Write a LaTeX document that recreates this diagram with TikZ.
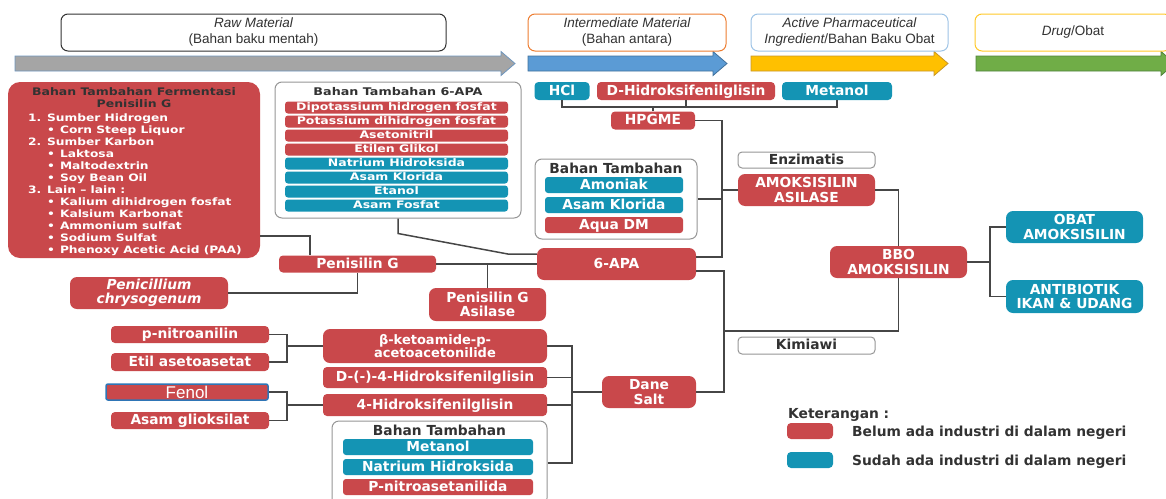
\documentclass[tikz,border=0pt]{standalone}
\usepackage{fontspec}
\newfontfamily\lbl{DejaVu Sans}
\newfontfamily\lblwide{DejaVu Sans}[FakeStretch=1.2]
\newfontfamily\arial{Liberation Sans}
\definecolor{rd}{RGB}{201,72,75}
\definecolor{bl}{RGB}{20,148,180}
\definecolor{dark}{RGB}{50,50,50}
\definecolor{wirecol}{RGB}{70,70,70}
\definecolor{rim}{RGB}{150,150,150}
\definecolor{orng}{RGB}{237,125,49}
\definecolor{lblue}{RGB}{157,195,230}
\definecolor{yel}{RGB}{255,200,40}
\definecolor{fenolrim}{RGB}{46,117,182}
\definecolor{arrgray}{RGB}{165,165,165}
\definecolor{arrgrayrim}{RGB}{110,150,190}
\definecolor{arrblue}{RGB}{91,155,213}
\definecolor{arrbluerim}{RGB}{65,113,156}
\definecolor{arryel}{RGB}{255,192,0}
\definecolor{arryelrim}{RGB}{200,150,40}
\definecolor{arrgreen}{RGB}{112,173,71}
\definecolor{arrgreenrim}{RGB}{80,130,60}
\tikzset{>=latex,
  sz/.style 2 args={minimum width=#1pt,minimum height=#2pt},
  tagbase/.style={rounded corners=4pt,inner sep=0pt,align=center,text=white,
    font=\lbl\bfseries\fontsize{13.8}{14.5}\selectfont},
  redtag/.style={tagbase,fill=rd},
  bluetag/.style={tagbase,fill=bl},
  oneline/.style={text height=10pt,text depth=2pt},
  panel/.style={draw=rim,line width=1pt,rounded corners=7pt,inner sep=0pt,fill=white},
  paneltitle/.style={text=dark,align=center,inner sep=0pt,
    font=\lbl\bfseries\fontsize{13.8}{14.5}\selectfont},
  note/.style={panel,paneltitle,rounded corners=4pt},
  smallfont/.style={font=\lblwide\bfseries\fontsize{10.2}{12}\selectfont},
  fermtext/.style={text=white,inner sep=0pt,smallfont},
  hdr/.style={line width=1pt,rounded corners=7pt,fill=white,align=center,text=dark,
    inner sep=0pt,font=\arial\fontsize{13.5}{16}\selectfont},
  wire/.style={draw=wirecol,line width=1.5pt}
}

\begin{document}
\begin{tikzpicture}[x=1pt,y=-1pt]
\useasboundingbox (0,0) rectangle (1166,498);
\clip (0,0) rectangle (1166,498);

% stages
\foreach \xa/\xb/\fc/\dc in {15/515/arrgray/arrgrayrim,528/727/arrblue/arrbluerim,751/948/arryel/arryelrim,976/1175/arrgreen/arrgreenrim}
  \draw[fill=\fc,draw=\dc,line width=0.8pt] (\xa,56) -- (\xb-14,56) -- (\xb-14,51.5) -- (\xb,63.5) -- (\xb-14,75.5) -- (\xb-14,71) -- (\xa,71) -- cycle;
\node[hdr,draw=dark,sz={385}{37}] (raw) at (253.5,32.5) {{\itshape Raw Material}\\(Bahan baku mentah)};
\node[hdr,draw=orng,sz={198}{37}] (inter) at (627,32.5) {{\itshape Intermediate Material}\\(Bahan antara)};
\node[hdr,draw=lblue,sz={197}{37}] (api) at (849.5,32.5) {{\itshape Active Pharmaceutical}\\{\itshape Ingredient}/Bahan Baku Obat};
\node[hdr,draw=yel,sz={196}{37}] (drug) at (1073,32.5) {{\itshape Drug}/Obat};

% fermentasi
\node[redtag,sz={252}{176},rounded corners=12pt] (ferm) at (134,170) {};
\node[paneltitle,smallfont,font=\lblwide\bfseries\fontsize{10.4}{12}\selectfont] (fermtitle) at (134,98) {Bahan Tambahan Fermentasi\\Penisilin G};
\foreach \k/\txt in {0/1. Sumber Hidrogen,2/2. Sumber Karbon,6/3. Lain – lain :}
  \node[fermtext,anchor=base west] (fh\k) at (28,121+12*\k) {\txt};
\foreach \k/\txt in {1/Corn Steep Liquor,3/Laktosa,4/Maltodextrin,5/Soy Bean Oil,7/Kalium dihidrogen fosfat,8/Kalsium Karbonat,9/Ammonium sulfat,10/Sodium Sulfat,11/Phenoxy Acetic Acid (PAA)}
  \node[fermtext,anchor=base west] (fb\k) at (47,121+12*\k) {\textbullet\hspace{5pt}\txt};

% bahan tambahan 6-APA
\node[panel,sz={246}{136}] (apaadd) at (398,150) {};
\node[paneltitle,font=\lblwide\bfseries\fontsize{10.6}{12}\selectfont] (apaaddtitle) at (398,92) {Bahan Tambahan 6-APA};
\foreach \txt/\col [count=\i from 0] in {Dipotassium hidrogen fosfat/rd,Potassium dihidrogen fosfat/rd,Asetonitril/rd,Etilen Glikol/rd,Natrium Hidroksida/bl,Asam Klorida/bl,Etanol/bl,Asam Fosfat/bl}
  \node[tagbase,fill=\col,rounded corners=3pt,sz={223}{12},text height=8pt,text depth=1.5pt,font=\lblwide\bfseries\fontsize{10.4}{12}\selectfont] (apa\i) at (396.5,107.5+14*\i) {\txt};

% HPGME
\node[bluetag,oneline,sz={55}{18}] (hcl) at (562,91) {HCl};
\node[redtag,oneline,sz={178}{18}] (dhpg) at (686,91) {D-Hidroksifenilglisin};
\node[bluetag,oneline,sz={110}{18}] (meoh) at (837,91) {Metanol};
\node[redtag,oneline,sz={84}{18}] (hpgme) at (653,120.5) {HPGME};

\node[panel,sz={162}{80}] (addmid) at (616,199) {};
\node[paneltitle] (addmidtitle) at (616,168) {Bahan Tambahan};
\node[bluetag,oneline,rounded corners=3pt,sz={138}{16}] (nh3) at (614,185) {Amoniak};
\node[bluetag,oneline,rounded corners=3pt,sz={138}{16}] (hclmid) at (614,205) {Asam Klorida};
\node[redtag,oneline,rounded corners=3pt,sz={138}{16}] (aqua) at (614,225) {Aqua DM};

\node[note,oneline,sz={137}{16}] (enz) at (806.5,160) {Enzimatis};
\node[redtag,sz={137}{32},rounded corners=7pt] (amoxase) at (806.5,190) {AMOKSISILIN\\ASILASE};
\node[redtag,oneline,sz={159}{32},rounded corners=7pt] (apa) at (616.5,264) {6-APA};

% penisilin G
\node[redtag,oneline,sz={157}{17}] (peng) at (357.5,264) {Penisilin G};
\node[redtag,sz={158}{32},rounded corners=7pt,font=\lbl\bfseries\itshape\fontsize{13.8}{14}\selectfont] (penchry) at (149,293) {Penicillium\\chrysogenum};
\node[redtag,sz={117}{33},rounded corners=7pt] (pengase) at (487.5,304.5) {Penisilin G\\Asilase};

% produk
\node[redtag,sz={137}{32},rounded corners=7pt] (bbo) at (898.5,262) {BBO\\AMOKSISILIN};
\node[bluetag,sz={137}{32},rounded corners=7pt] (obat) at (1074.5,227) {OBAT\\AMOKSISILIN};
\node[bluetag,sz={137}{33},rounded corners=7pt] (antib) at (1074.5,296.5) {ANTIBIOTIK\\IKAN \& UDANG};
\node[note,oneline,sz={137}{17}] (kimia) at (806.5,345.5) {Kimiawi};
\node[redtag,sz={94}{32},rounded corners=7pt] (dane) at (649,392) {Dane\\Salt};

% jalur kimiawi
\node[redtag,oneline,sz={158}{17}] (pnitro) at (190,334.5) {p-nitroanilin};
\node[redtag,oneline,sz={158}{18}] (etil) at (190,362) {Etil asetoasetat};
\node[redtag,draw=fenolrim,line width=1.5pt,rounded corners=2pt,sz={162}{16},text height=12pt,text depth=0pt,font=\arial\fontsize{17}{17}\selectfont] (fenol) at (187,392) {Fenol};
\node[redtag,oneline,sz={158}{17}] (glio) at (190,420.5) {Asam glioksilat};
\node[redtag,sz={224}{34},rounded corners=7pt,font=\lbl\bfseries\fontsize{13}{12.5}\selectfont] (keto) at (435,346) {β-ketoamide-p-\\acetoacetonilide};
\node[redtag,oneline,sz={224}{21}] (dhfg) at (435,377.5) {D-(-)-4-Hidroksifenilglisin};
\node[redtag,oneline,sz={224}{22}] (hfg) at (435,405) {4-Hidroksifenilglisin};
\node[panel,sz={215}{84}] (addbot) at (439.5,463) {};
\node[paneltitle] (addbottitle) at (439.5,430) {Bahan Tambahan};
\node[bluetag,oneline,rounded corners=3pt,sz={190}{16}] (meohbot) at (438,447) {Metanol};
\node[bluetag,oneline,rounded corners=3pt,sz={190}{16}] (naoh) at (438,467) {Natrium Hidroksida};
\node[redtag,oneline,rounded corners=3pt,sz={190}{16}] (pnas) at (438,487) {P-nitroasetanilida};

% keterangan
\node[paneltitle,oneline,anchor=west] (ket) at (788,414) {Keterangan :};
\node[redtag,sz={46}{16}] (keyred) at (810,431) {};
\node[bluetag,sz={46}{16}] (keyblue) at (810,460) {};
\node[paneltitle,oneline,anchor=west] (keyredtxt) at (852,432) {Belum ada industri di dalam negeri};
\node[paneltitle,oneline,anchor=west] (keybluetxt) at (852,461) {Sudah ada industri di dalam negeri};

% garis
\coordinate (topbus) at (653,107);
\coordinate (enzbus) at (722,190);
\coordinate (chembus) at (724,331);
\coordinate (outbus) at (990,262);
\coordinate (kbus) at (287,346);
\coordinate (fbus) at (287,405);
\coordinate (dbus) at (572,392);
\draw[wire] (hcl.south) |- (topbus) -| (meoh.south);
\draw[wire] (dhpg.south) -- (dhpg.south |- topbus);
\draw[wire] (hpgme.north) -- (topbus);
\draw[wire] (hpgme.east) -| (enzbus) -- (amoxase.west);
\draw[wire] (enzbus) |- ([yshift=7pt]apa.east);
\draw[wire] (addmid.east) -- (addmid.east -| enzbus);
\draw[wire] (amoxase.east) -| (bbo.north);
\draw[wire] ([yshift=-7pt]apa.east) -| (chembus) |- (dane.east);
\draw[wire] (chembus) -| (bbo.south);
\draw[wire] (bbo.east) -- (outbus);
\draw[wire] (obat.west) -| (outbus);
\draw[wire] (antib.west) -| (outbus);
\draw[wire] (peng.east) -- (apa.west);
\draw[wire] (pengase.north) -- (pengase.north |- peng.east);
\draw[wire] ([yshift=-66pt]ferm.east) -| ([xshift=-47.5pt]peng.north);
\draw[wire] (penchry.east) -| (peng.south);
\draw[wire] (apaadd.south) -- ++(0,15) -- ([shift={(-29pt,10pt)}]apa.west) -- ([yshift=10pt]apa.west);
\draw[wire] (pnitro.east) -| (kbus);
\draw[wire] (etil.east) -| (kbus);
\draw[wire] (kbus) -- (keto.west);
\draw[wire] (fenol.east) -| (fbus);
\draw[wire] (glio.east) -| (fbus);
\draw[wire] (fbus) -- (hfg.west);
\draw[wire] (keto.east) -| (dbus);
\draw[wire] (addbot.east) -| (dbus);
\draw[wire] (dhfg.east) -- (dhfg.east -| dbus);
\draw[wire] (hfg.east) -- (hfg.east -| dbus);
\draw[wire] (dbus) -- (dane.west);
\end{tikzpicture}
\end{document}
